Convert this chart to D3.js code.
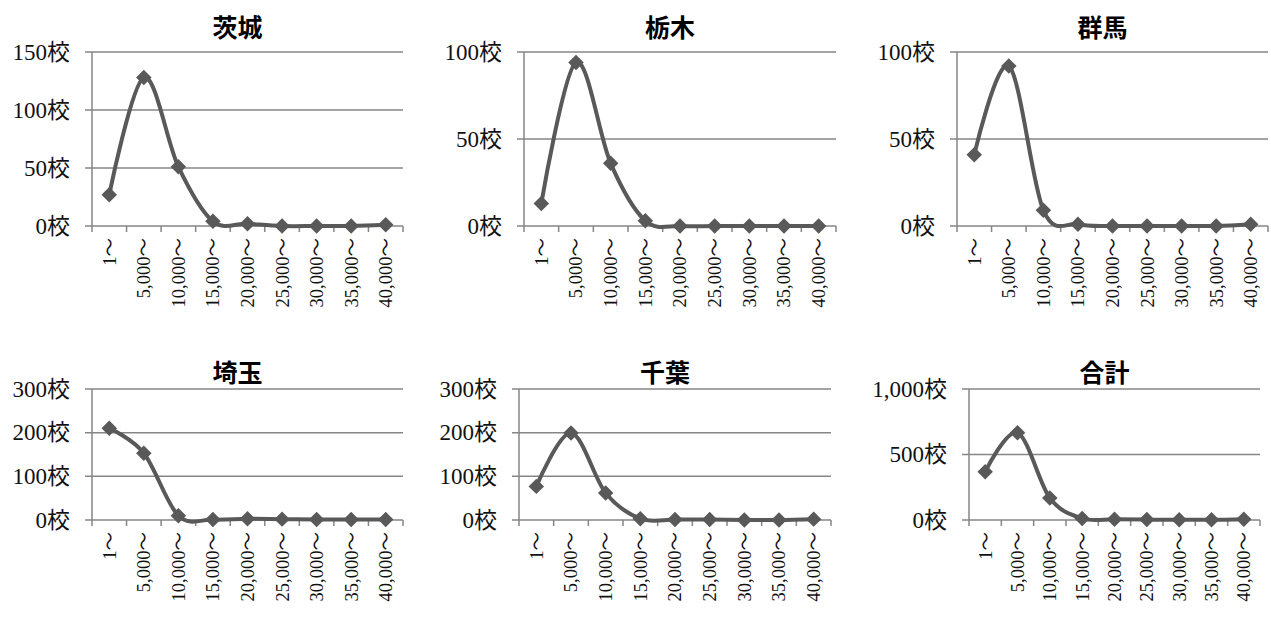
<!DOCTYPE html>
<html>
<head>
<meta charset="utf-8">
<script src="https://cdn.jsdelivr.net/npm/d3@7"></script>
<style>
  body { margin: 0; background: #fff; }
  svg { display: block; }
</style>
</head>
<body>
<div id="chart"></div>
<script>
// categories (school size bins)
var categories = ["1～", "5,000～", "10,000～", "15,000～", "20,000～", "25,000～", "30,000～", "35,000～", "40,000～"];

// number of schools per prefecture
var ibaraki = [27, 128, 51, 4, 2, 0, 0, 0, 1];
var tochigi = [13, 94, 36, 3, 0, 0, 0, 0, 0];
var gunma   = [41, 92, 9, 1, 0, 0, 0, 0, 1];
var saitama = [210, 153, 10, 1, 3, 2, 1, 1, 1];
var chiba   = [77, 199, 62, 3, 1, 1, 0, 0, 2];
var total   = [368, 666, 168, 12, 6, 3, 1, 1, 5];

var titles = ["茨城", "栃木", "群馬", "埼玉", "千葉", "合計"];
var yTicks = [
  [0, 50, 100, 150],
  [0, 50, 100],
  [0, 50, 100],
  [0, 100, 200, 300],
  [0, 100, 200, 300],
  [0, 500, 1000]
];

var series = [ibaraki, tochigi, gunma, saitama, chiba, total];

// plot boxes
var boxes = [
  {l: 92,  r: 403,  t: 52,  b: 226},
  {l: 524, r: 836,  t: 52,  b: 226},
  {l: 957, r: 1268, t: 52,  b: 226},
  {l: 92,  r: 403,  t: 389, b: 520},
  {l: 519, r: 831,  t: 389, b: 520},
  {l: 969, r: 1260, t: 389, b: 520}
];

var svg = d3.select("#chart").append("svg")
    .attr("width", 1271)
    .attr("height", 618);

var fmt = d3.format(",");
var gridColor = "#868686";
var lineColor = "#595959";

series.forEach(function(vals, k){
    var bx = boxes[k];
    var ticks = yTicks[k];
    var g = svg.append("g");

    var x = d3.scaleBand().domain(categories).range([bx.l, bx.r]);
    var y = d3.scaleLinear().domain([0, d3.max(ticks)]).range([bx.b, bx.t]);

    // title
    g.append("text")
        .attr("x", (bx.l + bx.r) / 2 - 10)
        .attr("y", k < 3 ? 26 : 371)
        .attr("text-anchor", "middle")
        .attr("dominant-baseline", "central")
        .style("font-family", "'Noto Sans CJK JP', sans-serif")
        .style("font-weight", "bold")
        .style("font-size", "25px")
        .text(titles[k]);

    // gridlines
    g.selectAll(".grid")
        .data(ticks)
        .enter()
        .append("line")
        .attr("x1", bx.l - 7)
        .attr("x2", bx.r)
        .attr("y1", function(d){return y(d);})
        .attr("y2", function(d){return y(d);})
        .attr("stroke", gridColor)
        .attr("stroke-width", 1.5);

    // y axis line
    g.append("line")
        .attr("x1", bx.l).attr("x2", bx.l)
        .attr("y1", bx.t).attr("y2", bx.b)
        .attr("stroke", gridColor)
        .attr("stroke-width", 1.5);

    // x ticks at category boundaries
    var bounds = categories.map(function(c){return x(c);}).concat([bx.r]);
    g.selectAll(".xt")
        .data(bounds)
        .enter()
        .append("line")
        .attr("x1", function(d){return d;})
        .attr("x2", function(d){return d;})
        .attr("y1", bx.b)
        .attr("y2", bx.b + 6)
        .attr("stroke", gridColor)
        .attr("stroke-width", 1.5);

    // y labels
    g.selectAll(".yl")
        .data(ticks)
        .enter()
        .append("text")
        .attr("x", bx.l - 22)
        .attr("y", function(d){return y(d);})
        .attr("text-anchor", "end")
        .attr("dominant-baseline", "central")
        .style("font-family", "'Liberation Serif', 'Noto Sans CJK JP', serif")
        .style("font-size", "23px")
        .attr("fill", "#111")
        .text(function(d){return fmt(d) + "校";});

    // x labels, rotated
    g.selectAll(".xl")
        .data(categories)
        .enter()
        .append("text")
        .attr("transform", function(d){
            return "translate(" + (x(d) + x.bandwidth() / 2) + "," + (bx.b + 12) + ") rotate(-90)";
        })
        .attr("text-anchor", "end")
        .attr("dy", "0.35em")
        .style("font-family", "'Liberation Serif', 'Noto Sans CJK JP', serif")
        .style("font-size", "18.5px")
        .attr("fill", "#111")
        .text(function(d){return d;});

    // smoothed line
    var line = d3.line()
        .x(function(d, i){return x(categories[i]) + x.bandwidth() / 2;})
        .y(function(d){return y(d);})
        .curve(d3.curveCardinal.tension(0));

    g.append("path")
        .datum(vals)
        .attr("d", line)
        .attr("fill", "none")
        .attr("stroke", lineColor)
        .attr("stroke-width", 4);

    // diamond markers
    g.selectAll(".mk")
        .data(vals)
        .enter()
        .append("path")
        .attr("d", d3.symbol().type(d3.symbolSquare).size(120))
        .attr("transform", function(d, i){
            return "translate(" + (x(categories[i]) + x.bandwidth() / 2) + "," + y(d) + ") rotate(45)";
        })
        .attr("fill", lineColor);
});
</script>
</body>
</html>
